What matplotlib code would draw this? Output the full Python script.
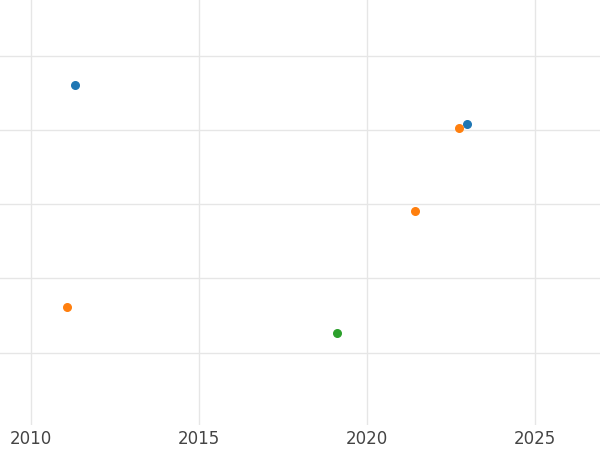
import matplotlib
matplotlib.use('Agg')
import matplotlib.pyplot as plt

blue_x = [2011.31, 2022.98]
blue_y = [4.61, 4.08]
orange_x = [2011.07, 2021.43, 2022.74]
orange_y = [1.62, 2.91, 4.03]
green_x = [2019.11]
green_y = [1.26]

fig = plt.figure(figsize=(6, 4.5), dpi=100)
ax = fig.add_axes([0, 0.056, 1, 0.944])
ax.scatter(blue_x, blue_y, color='#1f77b4', s=30, zorder=3)
ax.scatter(orange_x, orange_y, color='#ff7f0e', s=30, zorder=3)
ax.scatter(green_x, green_y, color='#2ca02c', s=30, zorder=3)

ax.set_xlim(2009.08, 2026.93)
ax.set_ylim(0.03, 5.75)
ax.set_xticks([2010, 2015, 2020, 2025])
ax.set_yticks([1, 2, 3, 4, 5])
ax.set_yticklabels([])
ax.tick_params(length=0, labelsize=12, labelcolor='#444444')
ax.grid(color='#e6e6e6', linewidth=1)
ax.set_axisbelow(True)
for s in ax.spines.values():
    s.set_visible(False)

fig.savefig('out.png')
